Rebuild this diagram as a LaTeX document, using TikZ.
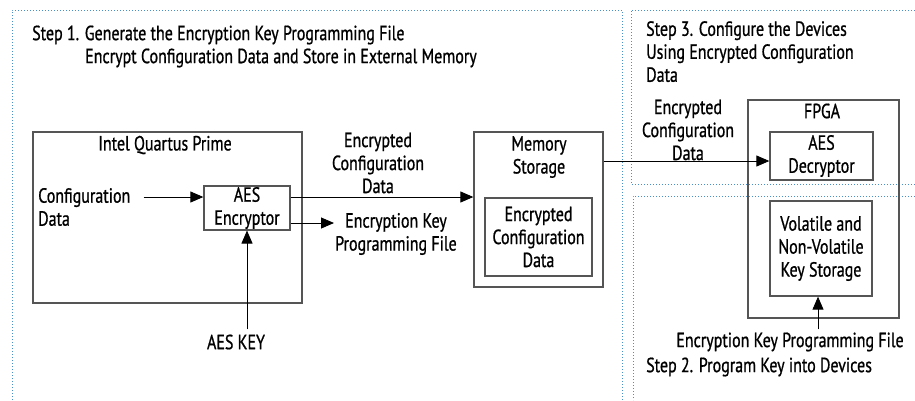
\documentclass[tikz,border=0pt]{standalone}
\usepackage{fontspec}
\setmainfont{PT Sans}[FakeStretch=0.78, FakeBold=0.8]
\usepackage{tikz}
\usetikzlibrary{positioning, arrows.meta}

\definecolor{stepblue}{RGB}{74,144,200}
\definecolor{boxgray}{RGB}{85,85,85}

\begin{document}
\begin{tikzpicture}[
    % GLOBAL CFG
    x=1pt, y=-1pt,
    font=\fontsize{20.5}{23}\selectfont,
    >={Triangle[length=13pt,width=11pt]},
    % Styles
    stepzone/.style={% For the dotted step areas
        draw=stepblue,
        dotted,
        line width=1pt,
        },
    block/.style={% For the boxes
        rectangle,
        draw=boxgray,
        line width=1.3pt,
        inner sep=1pt,
        align=center,
        },
    txt/.style={% For plain texts
        inner sep=1pt,
        align=center,
        },
    flow/.style={% Arrows
        ->,
        line width=0.9pt,
        }
    ]

    \useasboundingbox (0,0) rectangle (915,400);

    % Draw the step areas
    \draw [stepzone] (12,400) -- (12,10) -- (622,10) -- (622,400);
    \draw [stepzone] (915,10) -- (631,10) -- (631,184) -- (915,184);
    \draw [stepzone] (915,196) -- (633,196) -- (633,400);

    % Step titles
    \node [txt, anchor=west] (step1) at (31,35) {Step 1. Generate the Encryption Key Programming File};
    \node [txt, anchor=west] (step1b) at (84,58) {Encrypt Configuration Data and Store in External Memory};
    \node [txt, anchor=north west, align=left] (step3) at (645,20) {Step 3. Configure the Devices\\Using Encrypted Configuration\\Data};
    \node [txt, anchor=west] (step2) at (645,367) {Step 2. Program Key into Devices};

    % Draw the boxes
    \node [block, minimum width=269pt, minimum height=171pt] (quartus) at (167.5,217.5) {};
    \node [txt] (quartuslbl) at (165,145) {Intel Quartus Prime};
    \node [block, minimum width=86pt, minimum height=42pt] (encryptor) at (247,208) {AES\\Encryptor};
    \node [block, minimum width=129pt, minimum height=155pt] (memory) at (538.5,209.5) {};
    \node [txt] (memorylbl) at (539,157) {Memory\\Storage};
    \node [block, minimum width=107pt, minimum height=78pt] (memdata) at (538.5,237) {Encrypted\\Configuration\\Data};
    \node [block, minimum width=151pt, minimum height=218pt] (fpga) at (823.5,209) {};
    \node [txt] (fpgalbl) at (822,111) {FPGA};
    \node [block, minimum width=103pt, minimum height=48pt] (decryptor) at (821.5,156) {AES\\Decryptor};
    \node [block, minimum width=102pt, minimum height=95pt] (keystore) at (821,248.5) {Volatile and\\Non-Volatile\\Key Storage};

    % Draw the other texts
    \node [txt, anchor=west, align=left] (cfgdata) at (37,207) {Configuration\\Data};
    \node [txt] (encdata) at (378,163) {Encrypted\\Configuration\\Data};
    \node [txt, anchor=west] (keyfile) at (334,234) {Encryption Key\\Programming File};
    \node [txt] (aeskey) at (236,342) {AES KEY};
    \node [txt] (encdata2) at (688,130) {Encrypted\\Configuration\\Data};
    \node [txt] (keyfile2) at (790,342) {Encryption Key Programming File};

    % Connect all
    \draw [flow] ([yshift=11pt]encryptor.west -| cfgdata.east) ++(12,0) -- ([yshift=11pt]encryptor.west);
    \draw [flow] ([yshift=11pt]encryptor.east) -- ([yshift=11pt]encryptor.east -| memory.west);
    \draw [flow] ([yshift=-15pt]encryptor.east) -- ([yshift=-15pt]encryptor.east -| keyfile.west);
    \draw [flow] (encryptor.south |- aeskey.north) ++(0,-4) -- (encryptor.south);
    \draw [flow] ([yshift=-5pt]decryptor.west -| memory.east) -- ([yshift=-5pt]decryptor.west);
    \draw [flow] (keystore.south |- keyfile2.north) ++(-3,-2) -- ([xshift=-3pt]keystore.south);

\end{tikzpicture}
\end{document}
